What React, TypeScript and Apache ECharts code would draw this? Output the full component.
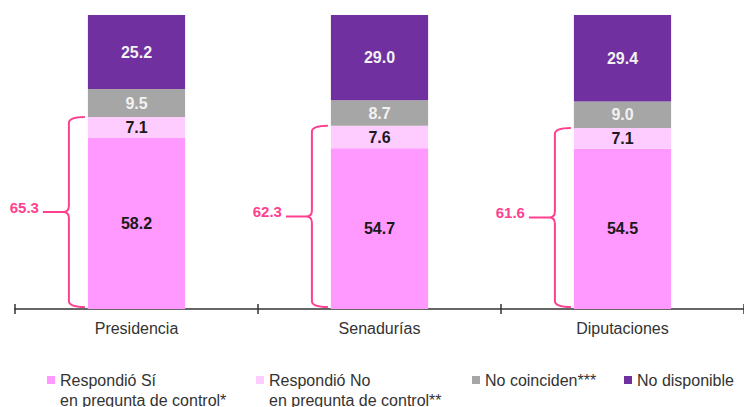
import React, { useEffect, useRef } from "react";
import * as echarts from "echarts";

const categories = ["Presidencia", "Senadurías", "Diputaciones"];
const siValues = [58.2, 54.7, 54.5];
const noValues = [7.1, 7.6, 7.1];
const noCoincidenValues = [9.5, 8.7, 9.0];
const noDisponibleValues = [25.2, 29.0, 29.4];
const bracketTotals = [65.3, 62.3, 61.6];

const seriesNames = [
  "Respondió Sí\nen pregunta de control*",
  "Respondió No\nen pregunta de control**",
  "No coinciden***",
  "No disponible",
];
const colors = ["#ff99ff", "#ffccff", "#a6a6a6", "#7030a0"];
const labelColors = ["#1a1a1a", "#1a1a1a", "#f2f2f2", "#f2f2f2"];
const FONT = "Liberation Sans, Arial, sans-serif";
const BRACKET = "#ff3f8f";

export default function App() {
  const ref = useRef<HTMLDivElement>(null);
  useEffect(() => {
    if (!ref.current) return;
    const chart = echarts.init(ref.current, null, { renderer: "svg" });
    const values = [siValues, noValues, noCoincidenValues, noDisponibleValues];
    const barSeries = values.map((arr, i) => ({
      name: seriesNames[i],
      type: "bar",
      stack: "total",
      barWidth: "40%",
      xAxisIndex: 0,
      yAxisIndex: 0,
      itemStyle: { color: colors[i] },
      label: {
        show: true,
        position: "inside",
        formatter: (p: any) => Number(p.value).toFixed(1),
        color: labelColors[i],
        fontFamily: FONT,
        fontWeight: "bold",
        fontSize: 16,
      },
      data: arr,
    }));

    const bracketSeries = {
      type: "custom",
      xAxisIndex: 0,
      yAxisIndex: 0,
      silent: true,
      z: 5,
      data: bracketTotals.map((t, i) => [i, t]),
      renderItem: (params: any, api: any) => {
        const idx = api.value(0);
        const total = api.value(1);
        const base = api.coord([idx, 0]);
        const top = api.coord([idx, total]);
        const band = api.size([1, 0])[0];
        const barLeft = base[0] - band * 0.2;
        const xv = barLeft - 19;
        const xe = barLeft - 3;
        const xt = barLeft - 45;
        const y0 = top[1];
        const y1 = base[1] - 2;
        const ym = (y0 + y1) / 2;
        const r = 6;
        const d =
          `M${xe},${y0} Q${xv},${y0} ${xv},${y0 + r} L${xv},${ym - r} Q${xv},${ym} ${xv - r},${ym} L${xt},${ym} ` +
          `M${xv - r},${ym} Q${xv},${ym} ${xv},${ym + r} L${xv},${y1 - r} Q${xv},${y1} ${xe},${y1}`;
        return {
          type: "group",
          children: [
            {
              type: "path",
              shape: { pathData: d },
              style: { stroke: BRACKET, lineWidth: 2, fill: null },
            },
            {
              type: "text",
              x: xt - 4,
              y: ym - 5,
              style: {
                text: Number(total).toFixed(1),
                fill: BRACKET,
                font: `bold 15px ${FONT}`,
                align: "right",
                verticalAlign: "middle",
              },
            },
          ],
        };
      },
    };

    const legendLefts = [47, 256, 472, 624];
    const legends = seriesNames.map((n, i) => {
      const twoLine = n.includes("\n");
      return {
        left: legendLefts[i],
        top: 370,
        padding: 0,
        orient: "horizontal",
        selectedMode: false,
        itemWidth: 8,
        itemHeight: twoLine ? 28 : 8,
        itemGap: 0,
        icon: twoLine ? "path://M0,0h8v8h-8zM0,28h8" : "rect",
        itemStyle: { borderWidth: 0 },
        data: [n],
        textStyle: {
          color: "#333",
          fontFamily: FONT,
          fontSize: 16,
          lineHeight: 20,
        },
      };
    });

    chart.setOption({
      animation: false,
      grid: { left: 15, top: 15, width: 738, height: 294 },
      legend: legends,
      xAxis: [
        {
          type: "category",
          data: categories,
          axisLine: { show: true, lineStyle: { color: "#666", width: 2 } },
          axisTick: { show: true, length: 5, lineStyle: { color: "#333", width: 1.5 } },
          axisLabel: { color: "#333", fontFamily: FONT, fontSize: 16, margin: 11 },
        },
        {
          type: "category",
          data: categories,
          position: "bottom",
          axisLine: { show: false },
          axisTick: { show: true, inside: true, length: 5, lineStyle: { color: "#333", width: 1.5 } },
          axisLabel: { show: false },
        },
      ],
      yAxis: { type: "value", min: 0, max: 100, show: false },
      series: [...barSeries, bracketSeries],
    });
    return () => chart.dispose();
  }, []);
  return (
    <div
      ref={ref}
      style={{ position: "fixed", left: 0, top: 0, width: 744, height: 407, background: "#fff" }}
    />
  );
}
